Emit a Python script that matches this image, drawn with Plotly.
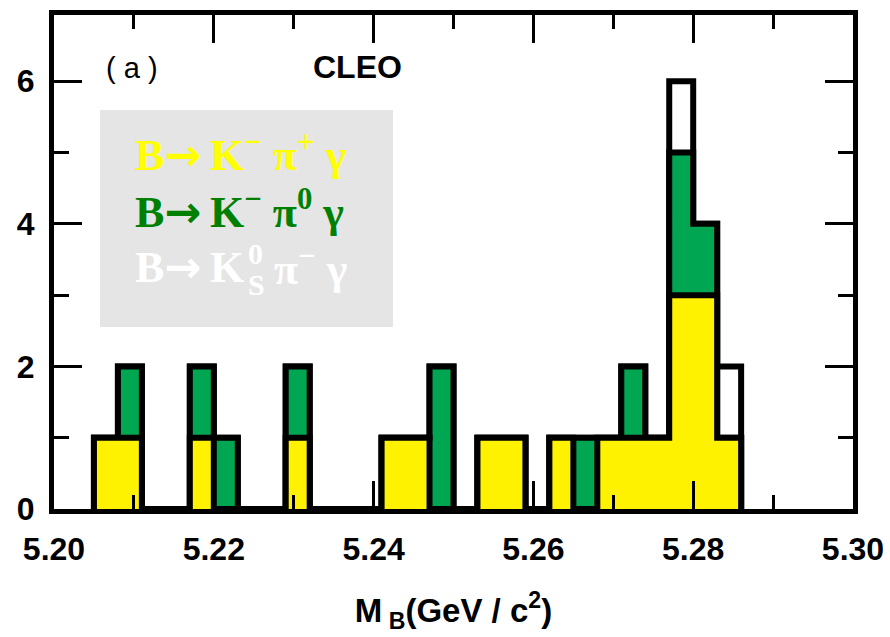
import plotly.graph_objects as go

# B-candidate mass histogram: 3 MeV bins, low edges in GeV/c^2
bin_low = [5.205, 5.208, 5.211, 5.214, 5.217, 5.220, 5.223, 5.226, 5.229,
           5.232, 5.235, 5.238, 5.241, 5.244, 5.247, 5.250, 5.253, 5.256,
           5.259, 5.262, 5.265, 5.268, 5.271, 5.274, 5.277, 5.280, 5.283]
bin_width = 0.003

# events per bin for each decay channel (stacked in this order)
kpi_charged = [1, 1, 0, 0, 1, 0, 0, 0, 1, 0, 0, 0, 1, 1, 0, 0, 1, 1,
               0, 1, 0, 1, 1, 1, 3, 3, 1]   # K- pi+ gamma
kpi_neutral = [0, 1, 0, 0, 1, 1, 0, 0, 1, 0, 0, 0, 0, 0, 2, 0, 0, 0,
               0, 0, 1, 0, 1, 0, 2, 1, 0]   # K- pi0 gamma
ks_pi       = [0, 0, 0, 0, 0, 0, 0, 0, 0, 0, 0, 0, 0, 0, 0, 0, 0, 0,
               0, 0, 0, 0, 0, 0, 1, 0, 1]   # K0s pi- gamma

x_range = [5.20, 5.30]
y_range = [0, 6.93]

# plot-area geometry in pixels
W, H = 890, 637
L, R, T, B = 54, 37, 15, 128
PW, PH = W - L - R, H - T - B


def px(x):
    return (x - L) / PW


def py(y):
    return (H - B - y) / PH


def step_outline(counts):
    """Closed step outline of a histogram, for an 'hv' shaped line."""
    xs = [bin_low[0]] + list(bin_low) + [bin_low[-1] + bin_width] * 2
    ys = [0] + list(counts) + [counts[-1], 0]
    return xs, ys


# cumulative layers, drawn back to front: total, K- pi+ + K- pi0, K- pi+
layer_yellow = list(kpi_charged)
layer_green = [a + b for a, b in zip(kpi_charged, kpi_neutral)]
layer_total = [a + b for a, b in zip(layer_green, ks_pi)]

fig = go.Figure()
for name, counts, color in [
    ("K0s pi- gamma", layer_total, "#ffffff"),
    ("K- pi0 gamma", layer_green, "#00a651"),
    ("K- pi+ gamma", layer_yellow, "#fff200"),
]:
    xs, ys = step_outline(counts)
    fig.add_trace(go.Scatter(
        x=xs, y=ys, name=name, mode="lines",
        line=dict(shape="hv", color="black", width=6),
        fill="tozeroy", fillcolor=color,
        showlegend=False, hoverinfo="skip",
    ))

axis_font = dict(family="Liberation Sans, Arial, sans-serif", size=32,
                 color="black", weight="bold")

fig.update_layout(
    width=W, height=H,
    margin=dict(l=L, r=R, t=T, b=B, autoexpand=False),
    paper_bgcolor="white", plot_bgcolor="white",
    xaxis=dict(
        range=x_range, showgrid=False, zeroline=False,
        showline=True, linewidth=5, linecolor="black", mirror="ticks",
        ticks="inside", ticklen=28, tickwidth=3, tickcolor="black",
        tick0=5.20, dtick=0.02, tickformat=".2f",
        minor=dict(ticks="inside", ticklen=14, tickwidth=3,
                   tickcolor="black", dtick=0.01, showgrid=False),
        tickfont=axis_font, ticklabelstandoff=8,
        title=dict(text="M<sub> B</sub>(GeV / c<sup>2</sup>)",
                   font=dict(family="Liberation Sans, Arial, sans-serif",
                             size=33, color="black", weight="bold"),
                   standoff=34),
    ),
    xaxis2=dict(
        range=x_range, overlaying="x", anchor="y", side="bottom",
        showgrid=False, zeroline=False, showline=False,
        ticks="outside", ticklen=12, tickwidth=3, tickcolor="black",
        tick0=5.20, dtick=0.01, showticklabels=False,
    ),
    yaxis=dict(
        range=y_range, showgrid=False, zeroline=False,
        showline=True, linewidth=5, linecolor="black", mirror="ticks",
        ticks="inside", ticklen=28, tickwidth=3, tickcolor="black",
        tick0=0, dtick=2,
        minor=dict(ticks="inside", ticklen=15, tickwidth=3,
                   tickcolor="black", dtick=1, showgrid=False),
        tickfont=axis_font, ticklabelstandoff=8,
    ),
)

# channel key on a grey panel
fig.add_shape(type="rect", xref="paper", yref="paper",
              x0=px(100), x1=px(393), y0=py(327), y1=py(110),
              fillcolor="#e5e5e5", line=dict(width=0), layer="below")

serif = "Liberation Serif, Times New Roman, serif"
sans = "Liberation Sans, Arial, sans-serif"
ARROW = '<span style="font-family:DejaVu Sans;font-weight:bold">→</span>\u2009'


def label(text, x, y, size, color, family, weight="bold", xanchor="left"):
    fig.add_annotation(text=text, xref="paper", yref="paper",
                       x=px(x), y=py(y), xanchor=xanchor, yanchor="middle",
                       showarrow=False,
                       font=dict(family=family, size=size, color=color,
                                 weight=weight))


label("( a )", 132, 68, 29, "black", sans, weight="normal", xanchor="center")
label("CLEO", 357, 67, 32, "black", sans, xanchor="center")

label("B" + ARROW + "K<sup>−</sup> π<sup>+</sup> γ", 133, 152, 44, "#ffff00", serif)
label("B" + ARROW + "K<sup>−</sup> π<sup>0</sup> γ", 133, 209, 44, "#008000", serif)
label("B" + ARROW + "K", 133, 266, 44, "#ffffff", serif)
label("0", 246, 253, 30, "#ffffff", serif)
label("S", 246, 285, 30, "#ffffff", serif)
label("π<sup>−</sup> γ", 272, 266, 44, "#ffffff", serif)

fig.write_html("out.html")
